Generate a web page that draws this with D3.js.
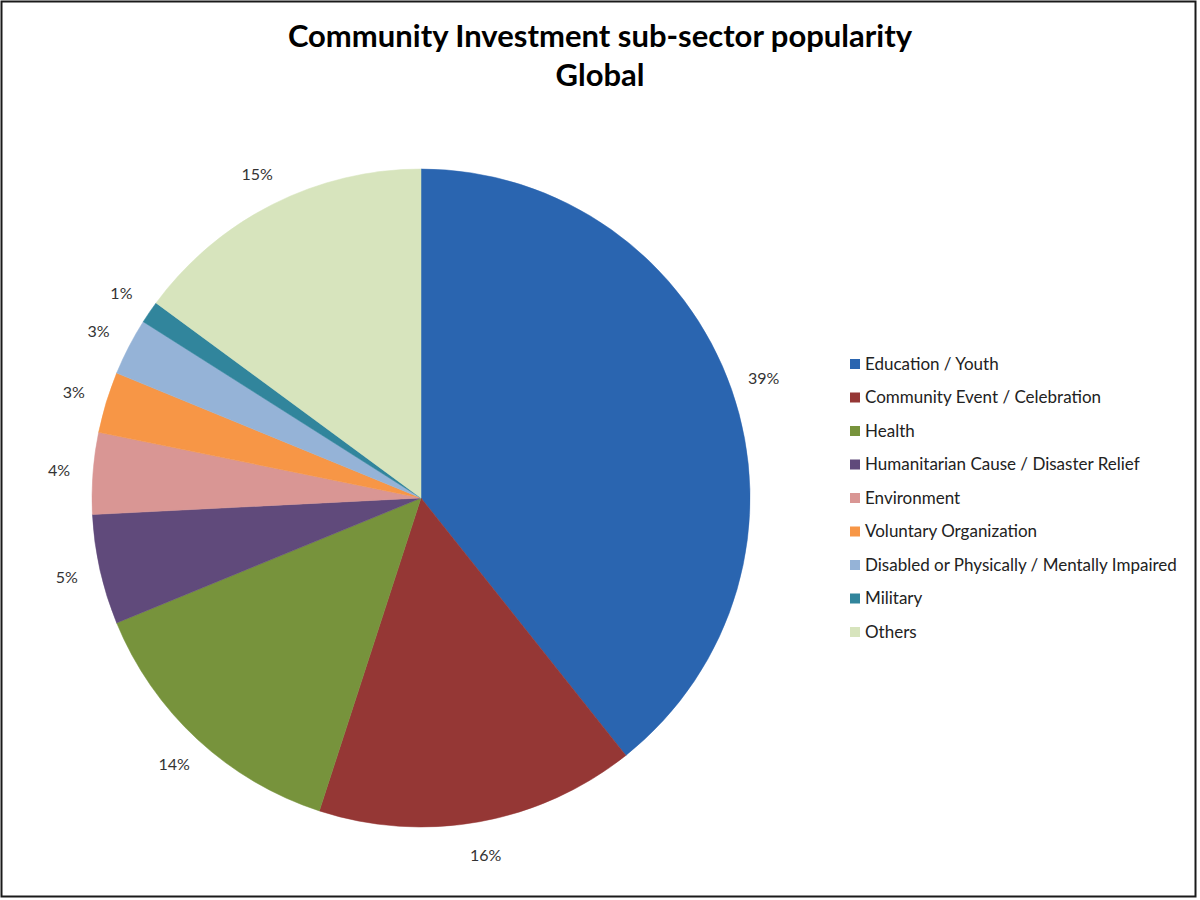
<!DOCTYPE html>
<meta charset="utf-8">
<style>
  body { margin: 0; background: #fff; }
  text { font-family: Lato, "Open Sans", "Liberation Sans", sans-serif; }
</style>
<body>
<svg id="chart" width="1200" height="900"></svg>
</body>
<script src="https://d3js.org/d3.v7.min.js"></script>
<script>
// chart data
var categories = ["Education / Youth", "Community Event / Celebration", "Health",
  "Humanitarian Cause / Disaster Relief", "Environment", "Voluntary Organization",
  "Disabled or Physically / Mentally Impaired", "Military", "Others"];
var values = [39.3, 15.7, 13.8, 5.4, 4.0, 3.0, 2.8, 1.1, 14.9];
var colors = ["#2A65B0", "#953735", "#77933C", "#604A7B", "#D99694",
  "#F79646", "#95B3D7", "#31859C", "#D7E4BD"];
var titleLines = ["Community Investment sub-sector popularity", "Global"];

var svg = d3.select("#chart"),
    cx = 421, cy = 498, radius = 329;

// outer frame
svg.append("rect")
  .attr("x", 1.5).attr("y", 1.5)
  .attr("width", 1194).attr("height", 895)
  .attr("fill", "none").attr("stroke", "#1a1a1a").attr("stroke-width", 2);

// title
svg.append("g").selectAll("text").data(titleLines).enter().append("text")
  .attr("x", 600)
  .attr("y", function(d, i){ return 47 + i * 39; })
  .attr("text-anchor", "middle")
  .attr("font-size", 31)
  .attr("font-weight", "bold")
  .attr("fill", "#000")
  .text(function(d){ return d; });

var data = categories.map(function(c, i){ return {name: c, value: values[i], color: colors[i]}; });

var pie = d3.pie().sort(null).value(function(d){ return d.value; });
var arc = d3.arc().innerRadius(0).outerRadius(radius);
var labelArc = d3.arc().innerRadius(radius + 34).outerRadius(radius + 34);
var total = d3.sum(values);

var g = svg.append("g").attr("transform", "translate(" + cx + "," + cy + ")");
var arcs = pie(data);

g.selectAll("path").data(arcs).enter().append("path")
  .attr("d", arc)
  .attr("fill", function(d){ return d.data.color; })
  .attr("stroke", function(d){ return d.data.color; })
  .attr("stroke-width", 0.5);

g.selectAll("text.lbl").data(arcs).enter().append("text")
  .attr("class", "lbl")
  .attr("transform", function(d){ return "translate(" + labelArc.centroid(d) + ")"; })
  .attr("text-anchor", "middle")
  .attr("dy", "0.35em")
  .attr("font-size", 16)
  .attr("fill", "#333")
  .text(function(d){ return Math.round(d.data.value / total * 100) + "%"; });

// legend
var legend = svg.append("g").attr("transform", "translate(850,364)");
var rows = legend.selectAll("g").data(data).enter().append("g")
  .attr("transform", function(d, i){ return "translate(0," + (i * 33.5) + ")"; });
rows.append("rect")
  .attr("x", 0).attr("y", -5)
  .attr("width", 10).attr("height", 10)
  .attr("fill", function(d){ return d.color; });
rows.append("text")
  .attr("x", 15).attr("dy", "0.35em")
  .attr("font-size", 17)
  .attr("fill", "#222")
  .text(function(d){ return d.name; });
</script>
